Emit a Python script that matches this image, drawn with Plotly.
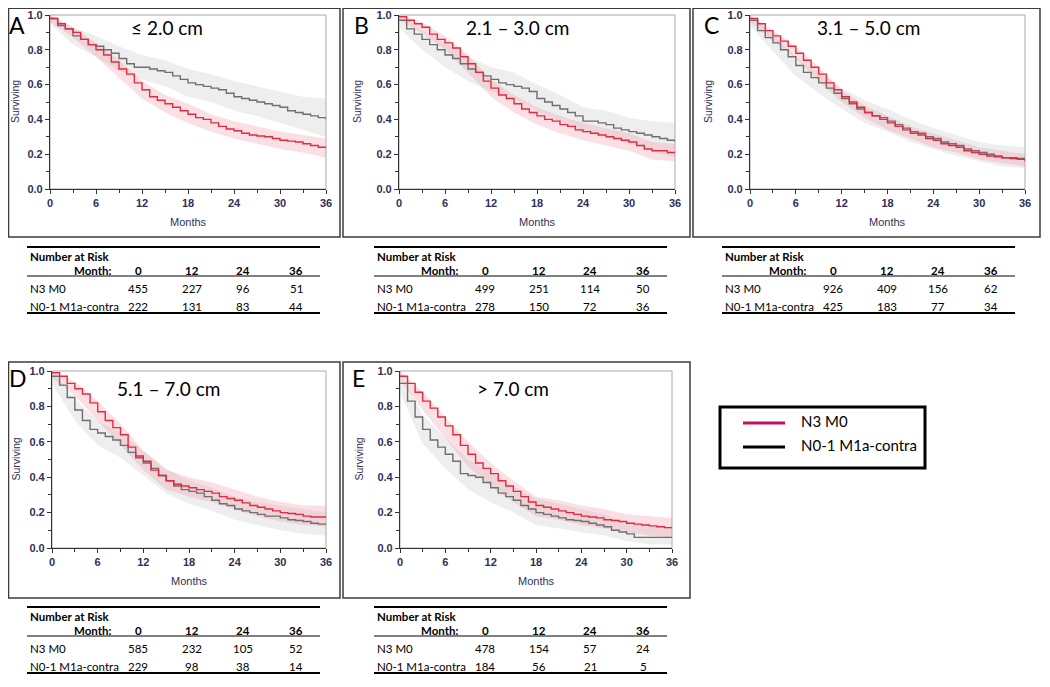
import plotly.graph_objects as go

# the page body has an 8px margin, so the figure is drawn 8px in from the window corner
PAGE_OFF = 8
W, H = 1042, 671

# months for the step curves and for the confidence bands
months = list(range(37))
band_months = list(range(0, 37, 3))

# A: <= 2.0 cm
a_n3 = [0.98, 0.95, 0.92, 0.90, 0.86, 0.83, 0.80, 0.77, 0.73, 0.69, 0.66, 0.61, 0.57, 0.53, 0.51, 0.49, 0.47, 0.45, 0.43,
        0.41, 0.40, 0.38, 0.36, 0.345, 0.335, 0.32, 0.31, 0.305, 0.30, 0.29, 0.28, 0.275, 0.27, 0.26, 0.25, 0.24, 0.235]
a_m1 = [0.98, 0.94, 0.92, 0.88, 0.86, 0.83, 0.82, 0.80, 0.78, 0.75, 0.72, 0.70, 0.70, 0.69, 0.68, 0.67, 0.65, 0.63, 0.61,
        0.60, 0.59, 0.58, 0.57, 0.55, 0.53, 0.52, 0.51, 0.50, 0.49, 0.48, 0.47, 0.45, 0.44, 0.43, 0.42, 0.41, 0.40]
a_n3_lo = [0.96, 0.87, 0.76, 0.64, 0.52, 0.44, 0.38, 0.33, 0.29, 0.26, 0.23, 0.21, 0.18]
a_n3_hi = [1.0, 0.93, 0.84, 0.74, 0.62, 0.54, 0.49, 0.43, 0.39, 0.36, 0.33, 0.31, 0.29]
a_m1_lo = [0.95, 0.83, 0.76, 0.68, 0.63, 0.59, 0.53, 0.50, 0.45, 0.42, 0.38, 0.34, 0.30]
a_m1_hi = [1.0, 0.93, 0.88, 0.82, 0.77, 0.74, 0.69, 0.66, 0.62, 0.59, 0.56, 0.53, 0.52]

# B: 2.1 - 3.0 cm
b_n3 = [0.99, 0.97, 0.95, 0.93, 0.89, 0.86, 0.84, 0.81, 0.76, 0.72, 0.67, 0.62, 0.58, 0.54, 0.52, 0.49, 0.46, 0.44, 0.42,
        0.40, 0.39, 0.37, 0.36, 0.34, 0.33, 0.32, 0.31, 0.30, 0.29, 0.28, 0.27, 0.25, 0.23, 0.22, 0.22, 0.21, 0.21]
b_m1 = [0.97, 0.92, 0.89, 0.86, 0.83, 0.80, 0.77, 0.75, 0.72, 0.69, 0.67, 0.65, 0.63, 0.61, 0.60, 0.59, 0.58, 0.56, 0.52,
        0.50, 0.48, 0.46, 0.44, 0.42, 0.39, 0.39, 0.38, 0.37, 0.35, 0.34, 0.33, 0.32, 0.31, 0.30, 0.29, 0.28, 0.27]
b_n3_lo = [0.97, 0.90, 0.80, 0.67, 0.53, 0.44, 0.37, 0.32, 0.28, 0.25, 0.22, 0.17, 0.16]
b_n3_hi = [1.0, 0.96, 0.88, 0.77, 0.63, 0.54, 0.47, 0.42, 0.38, 0.35, 0.32, 0.27, 0.26]
b_m1_lo = [0.93, 0.80, 0.70, 0.62, 0.56, 0.52, 0.45, 0.39, 0.32, 0.30, 0.26, 0.22, 0.18]
b_m1_hi = [1.0, 0.91, 0.84, 0.76, 0.70, 0.67, 0.60, 0.54, 0.47, 0.45, 0.41, 0.39, 0.38]

# C: 3.1 - 5.0 cm
c_n3 = [0.98, 0.95, 0.91, 0.88, 0.85, 0.82, 0.78, 0.74, 0.70, 0.66, 0.61, 0.57, 0.53, 0.50, 0.47, 0.44, 0.42, 0.40, 0.38,
        0.36, 0.34, 0.32, 0.31, 0.29, 0.28, 0.26, 0.25, 0.24, 0.22, 0.21, 0.20, 0.19, 0.185, 0.18, 0.175, 0.17, 0.16]
c_m1 = [0.97, 0.91, 0.87, 0.84, 0.80, 0.76, 0.71, 0.67, 0.64, 0.61, 0.58, 0.55, 0.52, 0.49, 0.46, 0.44, 0.42, 0.41, 0.39,
        0.37, 0.35, 0.33, 0.32, 0.30, 0.29, 0.27, 0.26, 0.25, 0.23, 0.22, 0.21, 0.20, 0.19, 0.18, 0.18, 0.175, 0.17]
c_n3_lo = [0.96, 0.85, 0.75, 0.62, 0.50, 0.41, 0.34, 0.29, 0.24, 0.21, 0.17, 0.15, 0.13]
c_n3_hi = [1.0, 0.91, 0.82, 0.70, 0.57, 0.48, 0.42, 0.36, 0.32, 0.28, 0.24, 0.22, 0.20]
c_m1_lo = [0.94, 0.79, 0.65, 0.55, 0.46, 0.38, 0.33, 0.27, 0.23, 0.19, 0.16, 0.13, 0.12]
c_m1_hi = [1.0, 0.89, 0.76, 0.67, 0.58, 0.51, 0.46, 0.40, 0.35, 0.31, 0.27, 0.25, 0.24]

# D: 5.1 - 7.0 cm
d_n3 = [0.99, 0.97, 0.93, 0.90, 0.87, 0.82, 0.77, 0.72, 0.68, 0.64, 0.57, 0.52, 0.49, 0.44, 0.41, 0.38, 0.36, 0.35, 0.34,
        0.33, 0.32, 0.31, 0.29, 0.28, 0.27, 0.255, 0.24, 0.23, 0.22, 0.21, 0.20, 0.195, 0.19, 0.18, 0.175, 0.175, 0.175]
d_m1 = [0.97, 0.92, 0.85, 0.78, 0.72, 0.67, 0.65, 0.63, 0.61, 0.58, 0.54, 0.51, 0.48, 0.45, 0.41, 0.38, 0.35, 0.33, 0.32,
        0.31, 0.29, 0.27, 0.25, 0.24, 0.22, 0.21, 0.20, 0.19, 0.18, 0.18, 0.17, 0.16, 0.155, 0.15, 0.14, 0.135, 0.13]
d_n3_lo = [0.96, 0.86, 0.72, 0.58, 0.44, 0.33, 0.29, 0.26, 0.22, 0.18, 0.15, 0.13, 0.12]
d_n3_hi = [1.0, 0.94, 0.83, 0.70, 0.55, 0.44, 0.40, 0.37, 0.33, 0.29, 0.26, 0.24, 0.24]
d_m1_lo = [0.93, 0.72, 0.58, 0.51, 0.41, 0.31, 0.25, 0.21, 0.16, 0.13, 0.10, 0.08, 0.07]
d_m1_hi = [1.0, 0.84, 0.72, 0.65, 0.55, 0.45, 0.38, 0.34, 0.29, 0.26, 0.24, 0.22, 0.20]

# E: > 7.0 cm
e_n3 = [0.97, 0.93, 0.88, 0.83, 0.79, 0.74, 0.69, 0.64, 0.58, 0.53, 0.48, 0.45, 0.42, 0.38, 0.35, 0.32, 0.29, 0.26, 0.24,
        0.23, 0.22, 0.21, 0.20, 0.19, 0.18, 0.175, 0.17, 0.16, 0.155, 0.15, 0.14, 0.135, 0.13, 0.125, 0.12, 0.115, 0.11]
e_m1 = [0.93, 0.83, 0.74, 0.67, 0.61, 0.57, 0.53, 0.49, 0.42, 0.41, 0.40, 0.37, 0.34, 0.31, 0.29, 0.27, 0.24, 0.22, 0.20,
        0.19, 0.18, 0.17, 0.16, 0.155, 0.15, 0.14, 0.13, 0.12, 0.10, 0.09, 0.08, 0.06, 0.06, 0.06, 0.06, 0.06, 0.06]
e_n3_lo = [0.95, 0.78, 0.62, 0.46, 0.35, 0.26, 0.18, 0.16, 0.13, 0.11, 0.09, 0.07, 0.06]
e_n3_hi = [1.0, 0.88, 0.74, 0.60, 0.48, 0.38, 0.29, 0.27, 0.24, 0.22, 0.19, 0.18, 0.17]
e_m1_lo = [0.88, 0.59, 0.45, 0.33, 0.26, 0.20, 0.13, 0.11, 0.09, 0.07, 0.04, 0.02, 0.02]
e_m1_hi = [0.99, 0.75, 0.62, 0.50, 0.43, 0.35, 0.28, 0.25, 0.22, 0.19, 0.14, 0.12, 0.12]

# number at risk tables
risk_months = ["0", "12", "24", "36"]
group_names = ["N3 M0", "N0-1 M1a-contra"]
a_risk_n3, a_risk_m1 = [455, 227, 96, 51], [222, 131, 83, 44]
b_risk_n3, b_risk_m1 = [499, 251, 114, 50], [278, 150, 72, 36]
c_risk_n3, c_risk_m1 = [926, 409, 156, 62], [425, 183, 77, 34]
d_risk_n3, d_risk_m1 = [585, 232, 105, 52], [229, 98, 38, 14]
e_risk_n3, e_risk_m1 = [478, 154, 57, 24], [184, 56, 21, 5]

RED = "#e32b3f"
GREY = "#6f6f6f"
RED_BAND = "rgba(240,150,165,0.30)"
GREY_BAND = "rgba(195,195,195,0.28)"
TICK_COL = "#2f2f5a"


# window pixel -> paper fraction (clamped so edge lines stay on the page)
def px(x):
    return min(max((x - PAGE_OFF) / W, 0.0005), 0.9995)


def py(y):
    return min(max(1 - (y - PAGE_OFF) / H, 0.0005), 0.9995)


def label(text, x, y, font, xanchor="center", **kw):
    return dict(text=text, xref="paper", yref="paper", x=px(x), y=py(y), xanchor=xanchor, yanchor="middle",
                showarrow=False, font=font, **kw)


# pixel layout of each panel: plot area, outer frame, label positions, table origin
panels = [
    dict(letter="A", title="≤ 2.0 cm", n3=a_n3, m1=a_m1, n3_lo=a_n3_lo, n3_hi=a_n3_hi, m1_lo=a_m1_lo, m1_hi=a_m1_hi,
         risk=(a_risk_n3, a_risk_m1), plot=(50, 326, 15, 189), frame=(1, 340, 1, 237),
         letter_xy=(17, 25), title_xy=(167, 27), table=(27, 247)),
    dict(letter="B", title="2.1 – 3.0 cm", n3=b_n3, m1=b_m1, n3_lo=b_n3_lo, n3_hi=b_n3_hi, m1_lo=b_m1_lo, m1_hi=b_m1_hi,
         risk=(b_risk_n3, b_risk_m1), plot=(399, 675, 15, 189), frame=(343, 690, 1, 237),
         letter_xy=(361, 25), title_xy=(517, 27), table=(374, 247)),
    dict(letter="C", title="3.1 – 5.0 cm", n3=c_n3, m1=c_m1, n3_lo=c_n3_lo, n3_hi=c_n3_hi, m1_lo=c_m1_lo, m1_hi=c_m1_hi,
         risk=(c_risk_n3, c_risk_m1), plot=(750, 1025, 15, 189), frame=(693, 1040, 1, 237),
         letter_xy=(711, 25), title_xy=(868, 27), table=(722, 247)),
    dict(letter="D", title="5.1 – 7.0 cm", n3=d_n3, m1=d_m1, n3_lo=d_n3_lo, n3_hi=d_n3_hi, m1_lo=d_m1_lo, m1_hi=d_m1_hi,
         risk=(d_risk_n3, d_risk_m1), plot=(52, 326, 371, 548), frame=(1, 340, 362, 598),
         letter_xy=(18, 378), title_xy=(168, 388), table=(27, 607)),
    dict(letter="E", title="> 7.0 cm", n3=e_n3, m1=e_m1, n3_lo=e_n3_lo, n3_hi=e_n3_hi, m1_lo=e_m1_lo, m1_hi=e_m1_hi,
         risk=(e_risk_n3, e_risk_m1), plot=(400, 672, 371, 548), frame=(343, 690, 362, 598),
         letter_xy=(358, 378), title_xy=(513, 388), table=(374, 607)),
]

fig = go.Figure()
shapes = []
annotations = []
axis_font = dict(family="Liberation Sans, Arial", size=11, color=TICK_COL, weight="bold")
lab_font = dict(family="Liberation Sans, Arial", size=10.5, color=TICK_COL)
tfont = dict(family="Lato, Open Sans", size=11.5, color="black")
bfont = dict(family="Lato, Open Sans", size=11.5, color="black", weight="bold")

for i, p in enumerate(panels, start=1):
    sfx = "" if i == 1 else str(i)
    xa, ya = f"x{sfx}", f"y{sfx}"
    # confidence bands
    for lo, hi, col in [(p["m1_lo"], p["m1_hi"], GREY_BAND), (p["n3_lo"], p["n3_hi"], RED_BAND)]:
        fig.add_trace(go.Scatter(x=band_months, y=lo, xaxis=xa, yaxis=ya, mode="lines",
                                 line=dict(width=0, color=col), showlegend=False, hoverinfo="skip"))
        fig.add_trace(go.Scatter(x=band_months, y=hi, xaxis=xa, yaxis=ya, mode="lines", fill="tonexty",
                                 fillcolor=col, line=dict(width=0, color=col), showlegend=False, hoverinfo="skip"))
    # survival curves
    fig.add_trace(go.Scatter(x=months, y=p["m1"], xaxis=xa, yaxis=ya, mode="lines", line_shape="hv",
                             line=dict(color=GREY, width=1.4), name=group_names[1], showlegend=False))
    fig.add_trace(go.Scatter(x=months, y=p["n3"], xaxis=xa, yaxis=ya, mode="lines", line_shape="hv",
                             line=dict(color=RED, width=1.4), name=group_names[0], showlegend=False))

    x0, x1, yt, yb = p["plot"]
    fig.update_layout({
        f"xaxis{sfx}": dict(domain=[px(x0), px(x1)], anchor=ya, range=[0, 36], dtick=6, tick0=0,
                            showgrid=False, zeroline=False, showline=True, linecolor="#333", linewidth=1.2,
                            ticks="outside", ticklen=4, tickcolor="#333", tickfont=axis_font,
                            minor=dict(dtick=3, tick0=0, ticks="outside", ticklen=2.5, tickcolor="#333")),
        f"yaxis{sfx}": dict(domain=[py(yb), py(yt)], anchor=xa, range=[0, 1.0], dtick=0.2, tick0=0,
                            tickformat=".1f", showgrid=False, zeroline=False, showline=True, linecolor="#333",
                            linewidth=1.2, ticks="outside", ticklen=4, tickcolor="#333", tickfont=axis_font,
                            minor=dict(dtick=0.1, tick0=0, ticks="outside", ticklen=2.5, tickcolor="#333")),
    })
    # light border round the plot area
    shapes.append(dict(type="rect", xref=f"{xa} domain", yref=f"{ya} domain", x0=0, x1=1, y0=0, y1=1,
                       line=dict(color="#a8a8a8", width=1), layer="below"))
    # outer panel frame
    fx0, fx1, fy0, fy1 = p["frame"]
    shapes.append(dict(type="rect", xref="paper", yref="paper", x0=px(fx0), x1=px(fx1), y0=py(fy1), y1=py(fy0),
                       line=dict(color="#3c3c3c", width=1.5)))
    # axis titles
    annotations.append(label("Surviving", max(x0 - 42, 15), (yt + yb) / 2, lab_font, textangle=-90))
    annotations.append(label("Months", (x0 + x1) / 2, yb + 33, dict(lab_font, size=11)))
    # panel letter and size class
    lx, ly = p["letter_xy"]
    annotations.append(label(p["letter"], lx, ly, dict(family="Lato, Open Sans", size=23, color="black")))
    tx, ty = p["title_xy"]
    annotations.append(label(p["title"], tx, ty, dict(family="Lato, Open Sans", size=19, color="black")))

    # number at risk table
    t0, ty0 = p["table"]
    tw = 293
    col_off = [111, 165, 216, 269]
    for yy, wdt in [(ty0, 2), (ty0 + 29, 1), (ty0 + 66, 2)]:
        shapes.append(dict(type="line", xref="paper", yref="paper", x0=px(t0), x1=px(t0 + tw),
                           y0=py(yy), y1=py(yy), line=dict(color="black", width=wdt)))
    annotations.append(label("Number at Risk", t0 + 1, ty0 + 9, bfont, xanchor="left"))
    annotations.append(label("Month:", t0 + 86, ty0 + 23, bfont, xanchor="right"))
    for off, m in zip(col_off, risk_months):
        annotations.append(label(m, t0 + off, ty0 + 23, bfont))
    for row_y, name, vals in [(ty0 + 41, group_names[0], p["risk"][0]), (ty0 + 59, group_names[1], p["risk"][1])]:
        annotations.append(label(name, t0 + 1, row_y, tfont, xanchor="left"))
        for off, v in zip(col_off, vals):
            annotations.append(label(str(v), t0 + off, row_y, tfont))

# legend box
shapes.append(dict(type="rect", xref="paper", yref="paper", x0=px(720), x1=px(925), y0=py(468), y1=py(407),
                   line=dict(color="black", width=3)))
for yy, col, name in [(423, "#cc0a5e", group_names[0]), (447, "black", group_names[1])]:
    shapes.append(dict(type="line", xref="paper", yref="paper", x0=px(743), x1=px(785), y0=py(yy), y1=py(yy),
                       line=dict(color=col, width=3)))
    annotations.append(label(name, 799, yy - 2, dict(family="Lato, Open Sans", size=15, color="black"),
                             xanchor="left"))

fig.update_layout(width=W, height=H, margin=dict(l=0, r=0, t=0, b=0, autoexpand=False), paper_bgcolor="white",
                  plot_bgcolor="white", showlegend=False, shapes=shapes, annotations=annotations)

fig.write_html("out.html")
